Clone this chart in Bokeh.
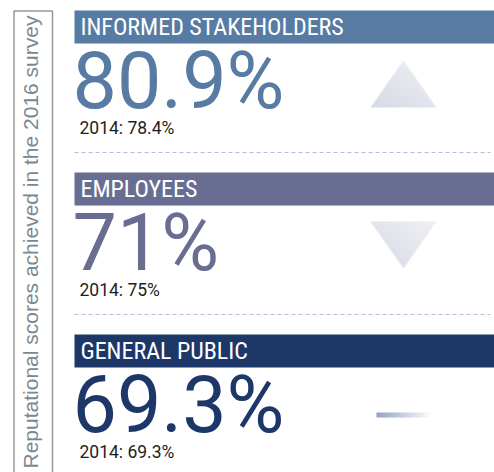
import numpy as np
from bokeh.plotting import figure
from bokeh.models import Range1d, ColumnDataSource
from bokeh.core.properties import value
from bokeh.embed import file_html
from bokeh.resources import INLINE

# ---- data ----
groups = ["INFORMED STAKEHOLDERS", "EMPLOYEES", "GENERAL PUBLIC"]
score_2016 = [80.9, 71, 69.3]
score_2014 = [78.4, 75, 69.3]
colors = ["#577ba2", "#6a6d92", "#1c3768"]
side_title = "Reputational scores achieved in the 2016 survey"

# ---- layout (page pixel coordinates, y measured from top) ----
W, H = 494, 472
def Y(v):
    return H - v

ROW0, ROW_STEP = 10, 162
row_top = [ROW0 + i * ROW_STEP for i in range(len(groups))]
labels = [f"{v:g}%" for v in score_2016]
prev_labels = [f"2014: {v:g}%" for v in score_2014]
trend = [np.sign(round(a - b, 3)) for a, b in zip(score_2016, score_2014)]

p = figure(width=W, height=H, output_backend="svg", toolbar_location=None,
           x_range=Range1d(0, W), y_range=Range1d(0, H),
           min_border=0, outline_line_color=None)
p.axis.visible = False
p.grid.visible = False
p.background_fill_color = "white"
p.border_fill_color = "white"

NARROW = value("'Liberation Sans Narrow', 'Roboto Condensed', 'Arial Narrow', sans-serif")

# side box + vertical title
p.quad(left=[13.5], right=[52], top=[Y(10.5)], bottom=[Y(490)], fill_color=None,
       line_color="#8e9aa3", line_width=1.5)
p.text(x=[30], y=[Y(468)], text=[side_title], angle=np.pi / 2, text_align="left",
       text_baseline="middle", text_color="#7b8891", text_font_size="21px",
       text_font=value("Liberation Sans"))

src = ColumnDataSource(dict(
    top=[Y(t) for t in row_top],
    bottom=[Y(t + 33) for t in row_top],
    hy=[Y(t + 16) for t in row_top],
    by=[Y(t + 70) for t in row_top],
    py=[Y(t + 117) for t in row_top],
    group=groups, label=labels, prev=prev_labels, color=colors,
))

p.quad(left=74, right=W + 5, top="top", bottom="bottom", source=src,
       fill_color="color", line_color=None)
p.text(x=80, y="hy", text="group", source=src, text_color="white",
       text_font_size="24px", text_font=NARROW, text_baseline="alphabetic")
p.text(x=72, y="by", text="label", source=src, text_color="color",
       text_font_size="79px", text_font=value("Roboto"), text_baseline="alphabetic")
p.text(x=79, y="py", text="prev", source=src, text_color="#1e1e1e",
       text_font_size="17.5px", text_font=value("Roboto"), text_baseline="alphabetic")

# dashed separators (between rows)
dy = [Y(t + 142) for t in row_top[:-1]]
p.segment(x0=74, x1=490, y0=dy, y1=dy,
          line_color="#b0bed8", line_width=1.2, line_dash="4 3")

# trend markers: gradient triangles (up / down) rendered as small RGBA images
cx, tw, th = 403, 66, 47
c_dark = np.array([0xd6, 0xda, 0xe5], float)
c_light = np.array([0xf0, 0xf1, 0xf5], float)

def triangle_image(up):
    ss = 4
    hh, ww = th * ss, tw * ss
    v, u = np.mgrid[0:hh, 0:ww]
    u = (u + 0.5) / ww
    v = (v + 0.5) / hh  # 0 at top
    half = v / 2 if up else (1 - v) / 2
    inside = (np.abs(u - 0.5) <= half).astype(float)
    cov = inside.reshape(th, ss, tw, ss).mean(axis=(1, 3))
    uu = (np.arange(tw) + 0.5) / tw
    vv = (np.arange(th) + 0.5) / th
    f = (uu[None, :] + (1 - vv[:, None])) / 2
    rgb = c_dark[None, None, :] * (1 - f[..., None]) + c_light[None, None, :] * f[..., None]
    img = np.zeros((th, tw), dtype=np.uint32)
    view = img.view(dtype=np.uint8).reshape((th, tw, 4))
    view[..., 0:3] = rgb.astype(np.uint8)
    view[..., 3] = (cov * 255).astype(np.uint8)
    return img[::-1]

for t, tr in zip(row_top, trend):
    if tr > 0:
        p.image_rgba(image=[triangle_image(True)], x=cx - tw / 2, y=Y(t + 97), dw=tw, dh=th)
    elif tr < 0:
        p.image_rgba(image=[triangle_image(False)], x=cx - tw / 2, y=Y(t + 96), dw=tw, dh=th)
    else:
        n = 56
        img = np.zeros((1, n), dtype=np.uint32)
        view = img.view(dtype=np.uint8).reshape((1, n, 4))
        c0 = np.array([0x93, 0xa3, 0xc3])
        for i in range(n):
            f = i / (n - 1)
            c = c0 * (1 - f) + 255 * f
            view[0, i, 0:3] = c.astype(np.uint8)
            view[0, i, 3] = 255
        p.image_rgba(image=[img], x=376, y=Y(t + 83), dw=56, dh=5)

open("out.html", "w").write(file_html(p, INLINE))
